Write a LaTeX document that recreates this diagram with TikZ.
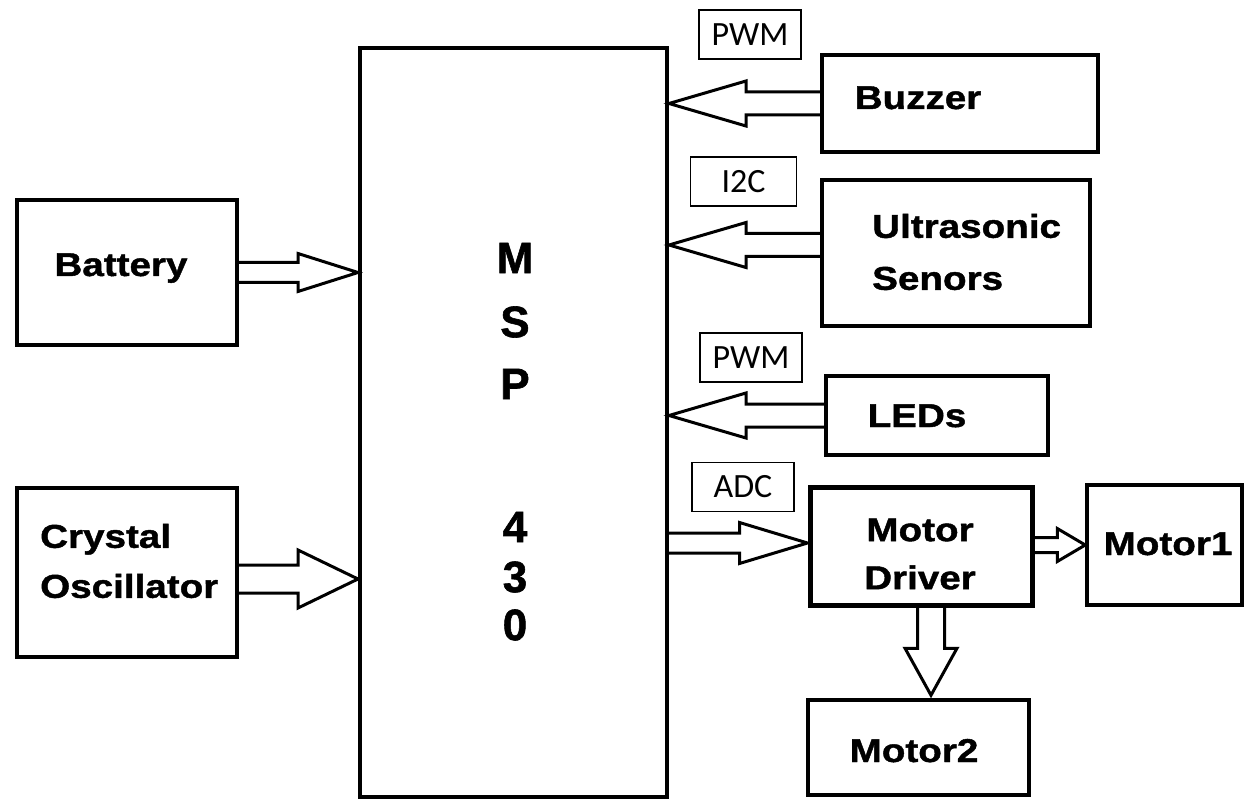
\documentclass[tikz,border=0pt]{standalone}
\usepackage{fontspec}
\usetikzlibrary{calc}
\newfontfamily\blkfont[FakeStretch=1.17,FakeBold=1.3]{Liberation Sans}
\newfontfamily\bigfont[FakeBold=1.3]{Liberation Sans}
\newfontfamily\lblfont{Carlito}
\tikzset{
  box/.style={draw, line width=3.5pt, inner sep=0pt},
  txt/.style={inner sep=0pt, align=left,
    font=\blkfont\bfseries\fontsize{33}{49}\selectfont},
  lbl/.style={draw, line width=1.3pt, inner sep=0pt, minimum width=102pt,
    minimum height=49pt, font=\lblfont\fontsize{34}{40}\selectfont},
  hollow/.style={draw, line width=3pt, line join=miter},
  big/.style={font=\bigfont\bfseries\fontsize{44}{50}\selectfont, inner sep=0pt}
}
% horizontal hollow arrow: tail, tip, shaft half, head half, head length
\newcommand\harr[5]{\draw[hollow] let \p1=(#1), \p2=(#2), \n1={ifthenelse(\x2>\x1,1,-1)} in
  (\x1,{\y2+#3}) -- ({\x2-\n1*#5},{\y2+#3}) -- ({\x2-\n1*#5},{\y2+#4}) -- (\x2,\y2)
  -- ({\x2-\n1*#5},{\y2-#4}) -- ({\x2-\n1*#5},{\y2-#3}) -- (\x1,{\y2-#3});}
% vertical hollow arrow
\newcommand\varr[5]{\draw[hollow] let \p1=(#1), \p2=(#2), \n1={ifthenelse(\y2>\y1,1,-1)} in
  ({\x2+#3},\y1) -- ({\x2+#3},{\y2-\n1*#5}) -- ({\x2+#4},{\y2-\n1*#5}) -- (\x2,\y2)
  -- ({\x2-#4},{\y2-\n1*#5}) -- ({\x2-#3},{\y2-\n1*#5}) -- ({\x2-#3},\y1);}
\begin{document}
\begin{tikzpicture}[x=1pt,y=-1pt]
\useasboundingbox (0,0) rectangle (1245,802);
% boxes
\node[box, line width=4pt, minimum width=307pt, minimum height=749pt] (msp) at (513.5,422.5) {};
\node[box, minimum width=220pt, minimum height=145pt] (bat) at (127,272.5) {};
\node[box, minimum width=220pt, minimum height=169pt] (osc) at (127,572.5) {};
\node[box, minimum width=276pt, minimum height=97pt] (buz) at (960,103.5) {};
\node[box, line width=4pt, minimum width=268pt, minimum height=146pt] (ult) at (956,253) {};
\node[box, minimum width=222pt, minimum height=79pt] (led) at (937,415.5) {};
\node[box, line width=5pt, minimum width=222pt, minimum height=118pt] (md) at (921,546) {};
\node[box, minimum width=155pt, minimum height=120pt] (m1) at (1164.5,545) {};
\node[box, minimum width=221pt, minimum height=95pt] (m2) at (918.5,747.5) {};
% box texts
\node[txt, anchor=base] (batT) at (121,276) {Battery};
\node[txt, anchor=west, font=\blkfont\bfseries\fontsize{33}{50}\selectfont] (oscT) at (40,561) {Crystal\\Oscillator};
\node[txt, anchor=base] (buzT) at (918,109) {Buzzer};
\node[txt, anchor=west, font=\blkfont\bfseries\fontsize{33}{52}\selectfont] (ultT) at (872,252) {Ultrasonic\\Senors};
\node[txt, anchor=base] (ledT) at (917,427) {LEDs};
\node[txt, align=center, font=\blkfont\bfseries\fontsize{33}{48}\selectfont] (mdT) at (920,554) {Motor\\Driver};
\node[txt, anchor=base] (m1T) at (1168,555) {Motor1};
\node[txt, anchor=base] (m2T) at (914,762) {Motor2};
% MSP430 letters
\node[big] (tM) at (515,258) {M};
\node[big] (tS) at (515,322) {S};
\node[big] (tP) at (515,384) {P};
\node[big] (t4) at (515,527) {4};
\node[big] (t3) at (515,577) {3};
\node[big] (t0) at (515,625) {0};
% interface labels
\node[lbl] (pwm1) at (750,34.5) {PWM};
\node[lbl, minimum width=106pt] (i2c) at (743.5,181.5) {I2C};
\node[lbl] (pwm2) at (751,357.5) {PWM};
\node[lbl] (adc) at (743,487) {ADC};
% arrows
\harr{bat.east}{msp.west |- bat.east}{10pt}{19pt}{60pt}
\harr{$(osc.east)+(0,6.5)$}{$(msp.west |- osc.east)+(0,6.5)$}{14pt}{29pt}{60pt}
\harr{buz.west}{msp.east |- buz.west}{11.5pt}{22.5pt}{77pt}
\harr{$(ult.west)+(0,-8)$}{$(msp.east |- ult.west)+(0,-8)$}{11.5pt}{22.5pt}{77pt}
\harr{led.west}{msp.east |- led.west}{11.5pt}{22.5pt}{77pt}
\harr{$(msp.east |- md.west)+(0,-3)$}{$(md.west)+(0,-3)$}{10pt}{20.5pt}{68pt}
\harr{md.east}{m1.west}{7.5pt}{16.5pt}{28pt}
\varr{$(md.south)+(11,0)$}{$(m2.north)+(12.5,-3)$}{13.5pt}{26pt}{47pt}
\end{tikzpicture}
\end{document}
